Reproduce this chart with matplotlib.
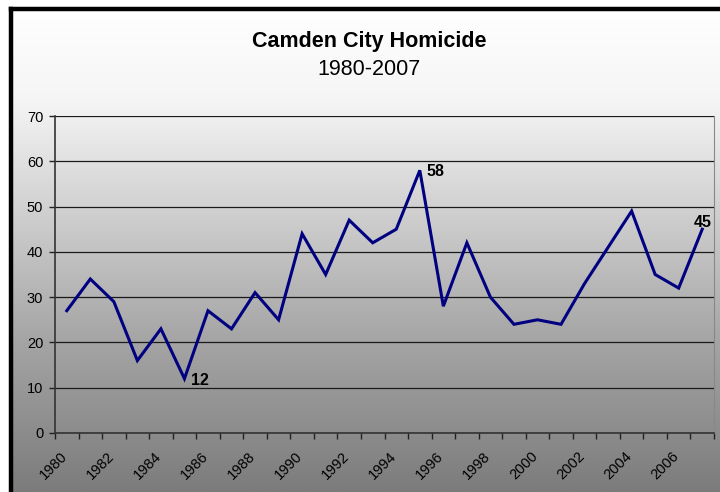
import numpy as np
import matplotlib
matplotlib.use("Agg")
import matplotlib.pyplot as plt
from matplotlib.lines import Line2D
from matplotlib.transforms import ScaledTranslation

years = list(range(1980, 2008))
homicides = [27, 34, 29, 16, 23, 12, 27, 23, 31, 25, 44, 35, 47, 42, 45,
             58, 28, 42, 30, 24, 25, 24, 33, 41, 49, 35, 32, 45]
tick_years = [str(y) if y % 2 == 0 else "" for y in years]
labelled = {1985: "12", 1995: "58", 2007: "45"}

plt.rcParams["font.family"] = ["Liberation Sans", "DejaVu Sans"]

W, H = 720, 492
fig = plt.figure(figsize=(W / 100, H / 100), dpi=100)
fig.patch.set_facecolor("white")

# chart area background: vertical grey gradient
bg = fig.add_axes([11 / W, 0, 1 - 11 / W, 1 - 9 / H])
bg.set_axis_off()
rows = np.linspace(9, H, 300)
shade = np.interp(rows, [9, 100, 340, H], [255, 245, 165, 124]) / 255
img = np.repeat(shade[:, None], 2, axis=1)
bg.imshow(np.dstack([img, img, img]), aspect="auto", extent=[0, 1, 0, 1],
          interpolation="bilinear")
bg.set_xlim(0, 1)
bg.set_ylim(0, 1)

# black frame, only left and top edges visible in the crop
fx, fy = 11 / W, 1 - 9 / H
fig.add_artist(Line2D([fx, fx], [0, fy], color="black", lw=3.2,
                      solid_capstyle="projecting"))
fig.add_artist(Line2D([fx, 1.01], [fy, fy], color="black", lw=3.2,
                      solid_capstyle="projecting"))

fig.text(369 / W, 1 - 41.5 / H, "Camden City Homicide", ha="center",
         va="center", fontsize=15.5, fontweight="bold")
fig.text(369 / W, 1 - 69.5 / H, "1980-2007", ha="center", va="center",
         fontsize=15.5)

ax = fig.add_axes([55 / W, 1 - 433 / H, (714 - 55) / W, (433 - 116) / H])
ax.set_facecolor("none")
x = np.arange(len(years)) + 0.5
ax.plot(x, homicides, color="#000080", lw=2.2, solid_joinstyle="miter")
ax.set_xlim(0, len(years))
ax.set_ylim(0, 70)
ax.set_yticks(range(0, 71, 10))
ax.yaxis.grid(True, color="#1a1a1a", lw=0.9)
ax.set_axisbelow(True)

ax.set_xticks(np.arange(len(years) + 1), minor=False)
ax.set_xticklabels([])
ax.set_xticks(x, minor=True)
ax.set_xticklabels(tick_years, minor=True, rotation=45, ha="right",
                   va="top", rotation_mode="anchor", fontsize=10.5)
ax.tick_params(axis="x", which="minor", length=0, pad=11.5)
ax.tick_params(axis="x", which="major", length=4, width=1, color="#222222")
ax.tick_params(axis="y", length=4.5, width=1, color="#222222", labelsize=10.5,
               pad=4)
shift = ScaledTranslation(-7 / 100, 0, fig.dpi_scale_trans)
for lab in ax.get_xticklabels(minor=True):
    lab.set_transform(lab.get_transform() + shift)

for s in ["left", "bottom"]:
    ax.spines[s].set_color("#333333")
    ax.spines[s].set_linewidth(1.2)
ax.spines["right"].set_color("#888888")
ax.spines["top"].set_visible(False)

for yr, txt in labelled.items():
    i = years.index(yr)
    v = homicides[i]
    off = (-6, 4.5) if yr == 2007 else (5, -1)
    ax.annotate(txt, (x[i], v), xytext=off, textcoords="offset points",
                ha="left", va="center", fontsize=11.5, fontweight="bold")

fig.savefig("out.png", dpi=100)
